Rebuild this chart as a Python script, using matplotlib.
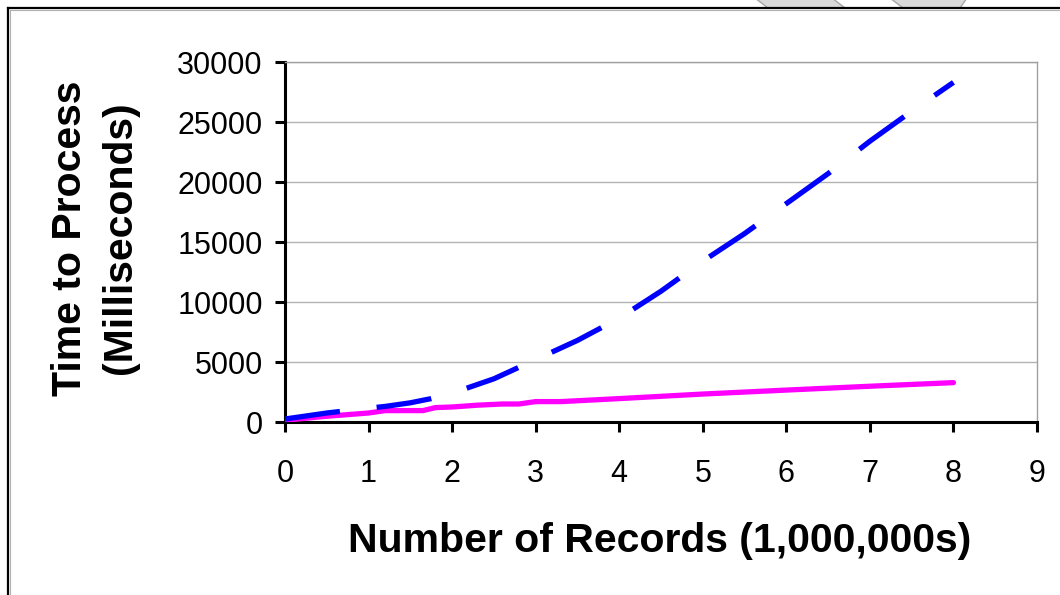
import matplotlib
matplotlib.use('Agg')
import matplotlib.pyplot as plt
from matplotlib.lines import Line2D
from matplotlib.patches import Polygon

plt.rcParams['font.family'] = ['Liberation Sans', 'DejaVu Sans']

# data
blue_x = [0, 0.5, 1.0, 1.2, 1.5, 1.75, 2.0, 2.5, 3.0, 3.5, 4.0, 4.5, 5.0, 5.5, 6.0, 6.5, 7.0, 7.5, 8.0]
blue_y = [250, 750, 1150, 1300, 1600, 1950, 2400, 3600, 5200, 6800, 8650, 10900, 13400, 15700, 18200,
          20700, 23400, 25900, 28300]
pink_x = [0, 0.5, 1.0, 1.2, 1.65, 1.8, 2.0, 2.3, 2.6, 2.8, 3.0, 3.3, 4.0, 5.0, 6.0, 7.0, 8.0]
pink_y = [150, 480, 750, 950, 950, 1200, 1250, 1400, 1500, 1500, 1700, 1700, 1950, 2330, 2660, 2980, 3280]
x_ticks = list(range(0, 10))
y_ticks = [0, 5000, 10000, 15000, 20000, 25000, 30000]

W, H = 1060, 595
fig = plt.figure(figsize=(W / 100, H / 100), dpi=100)
ax = fig.add_axes([285 / W, 1 - 422 / H, (1037 - 285) / W, (422 - 62) / H])

ax.plot(pink_x, pink_y, color='#ff00ff', lw=3.8, solid_capstyle='round', zorder=3)
bl, = ax.plot(blue_x, blue_y, color='#0000ff', lw=3.8, solid_capstyle='butt', zorder=4)
bl.set_dashes((10.5, 7))
bl.set_dash_capstyle('butt')

ax.set_xlim(0, 9)
ax.set_ylim(0, 30000)
ax.set_xticks(x_ticks)
ax.set_yticks(y_ticks)
ax.set_xticklabels([str(v) for v in x_ticks])
ax.set_yticklabels([str(v) for v in y_ticks])
ax.yaxis.grid(True, color='#b3b3b3', lw=1)
ax.set_axisbelow(True)

for side in ['left', 'bottom']:
    ax.spines[side].set_color('black')
    ax.spines[side].set_linewidth(2.2)
for side in ['top', 'right']:
    ax.spines[side].set_color('#a0a0a0')
    ax.spines[side].set_linewidth(1)
ax.tick_params(axis='y', direction='out', length=7, width=2.2, labelsize=22, pad=9)
ax.tick_params(axis='x', direction='out', length=7, width=2.2, labelsize=22, pad=20)

fig.text(660 / W, 1 - 541 / H, 'Number of Records (1,000,000s)', ha='center', va='center',
         fontsize=29.5, fontweight='bold')
fig.text(70 / W, 1 - 238 / H, 'Time to Process', ha='center', va='center',
         fontsize=29.5, fontweight='bold', rotation=90)
fig.text(120 / W, 1 - 238 / H, '(Milliseconds)', ha='center', va='center',
         fontsize=29.5, fontweight='bold', rotation=90)

# outer frame and the gray shapes peeking in at the top
def fx(px):
    return px / W

def fy(py):
    return 1 - py / H

for pts in [[(755, -2), (832, -2), (845, 8), (768, 8)],
            [(890, -2), (967, -2), (960, 8), (903, 8)]]:
    fig.patches.append(Polygon([(fx(a), fy(b)) for a, b in pts], closed=True,
                               facecolor='#d9d9d9', edgecolor='#a6a6a6', lw=1,
                               transform=fig.transFigure, figure=fig))
fig.lines.append(Line2D([fx(8), fx(W + 5)], [fy(8), fy(8)], color='black', lw=1.6,
                        transform=fig.transFigure, figure=fig))
fig.lines.append(Line2D([fx(8), fx(8)], [fy(8), fy(H + 5)], color='black', lw=1.6,
                        transform=fig.transFigure, figure=fig))
fig.lines.append(Line2D([fx(10), fx(W + 5)], [fy(10), fy(10)], color='#b0b0b0', lw=0.8,
                        transform=fig.transFigure, figure=fig))
fig.lines.append(Line2D([fx(10), fx(10)], [fy(10), fy(H + 5)], color='#b0b0b0', lw=0.8,
                        transform=fig.transFigure, figure=fig))

fig.savefig('out.png', dpi=100)
